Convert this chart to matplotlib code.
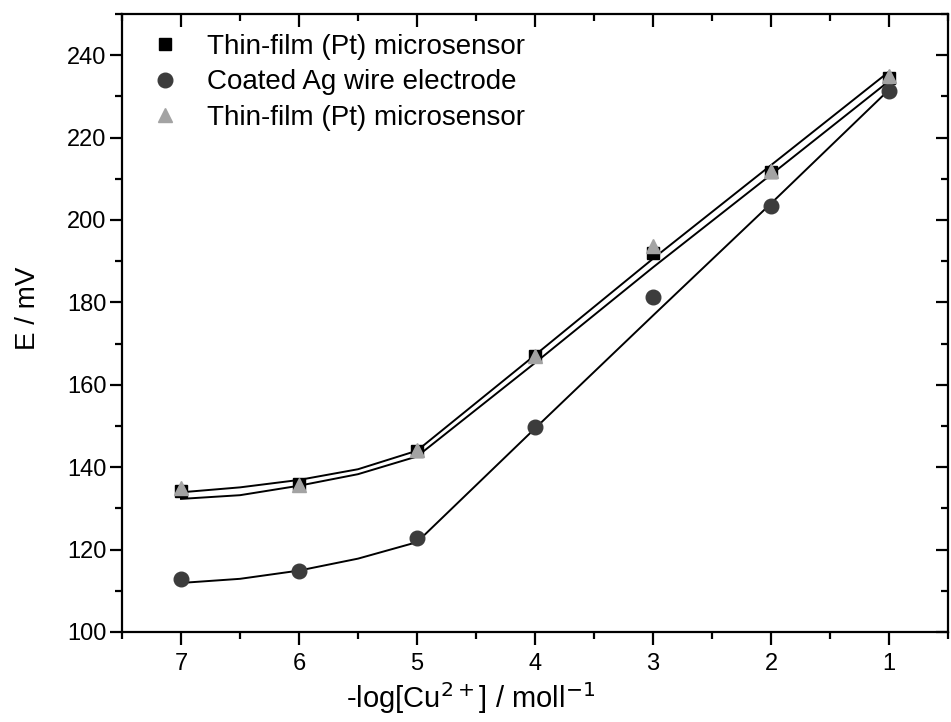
#!/usr/bin/env python3
"""Potentiometric response of Cu2+ sensors: E vs -log[Cu2+]."""

import matplotlib

matplotlib.use("Agg")
import matplotlib.lines as mlines
import matplotlib.pyplot as plt
from matplotlib.ticker import MultipleLocator

plt.rcParams["font.family"] = ["Liberation Sans", "DejaVu Sans"]

# measured points
pcu = [7, 6, 5, 4, 3, 2, 1]
e_thinfilm = [134.3, 136.0, 144.0, 167.0, 192.0, 211.7, 234.5]
e_coated_ag = [112.8, 114.8, 122.7, 149.8, 181.4, 203.5, 231.3]
e_thinfilm_2 = [135.0, 135.6, 144.2, 167.0, 193.7, 211.8, 234.9]

# fitted curves
fit_x = [7, 6.5, 6, 5.5, 5, 4, 3, 2, 1]
fit_top = [133.9, 135.1, 136.9, 139.5, 144.0, 167.2, 190.6, 213.3, 236.0]
fit_mid = [132.3, 133.2, 135.5, 138.3, 142.6, 165.3, 188.5, 211.0, 233.7]
fit_low = [111.9, 112.9, 114.9, 117.8, 121.8, 149.4, 176.8, 204.0, 231.6]

labels = [
    "Thin-film (Pt) microsensor",
    "Coated Ag wire electrode",
    "Thin-film (Pt) microsensor",
]


def main() -> None:
    fig = plt.figure(figsize=(9.51, 7.22), dpi=100)
    ax = fig.add_axes([0.1283, 0.1247, 0.8685, 0.8559])

    for fy in (fit_top, fit_mid, fit_low):
        ax.plot(fit_x, fy, color="black", linewidth=1.4, zorder=2)

    h1, = ax.plot(pcu, e_thinfilm, "s", color="black", markersize=8,
                  linestyle="none", zorder=3, label=labels[0])
    h2, = ax.plot(pcu, e_coated_ag, "o", color="#3c3c3c", markersize=10.5,
                  linestyle="none", zorder=4, label=labels[1])
    h3, = ax.plot(pcu, e_thinfilm_2, "^", color="#a3a3a3", markersize=10.5,
                  linestyle="none", zorder=5, label=labels[2])

    ax.set_xlim(7.5, 0.5)
    ax.set_ylim(100, 250)
    ax.xaxis.set_major_locator(MultipleLocator(1))
    ax.xaxis.set_minor_locator(MultipleLocator(0.5))
    ax.yaxis.set_minor_locator(MultipleLocator(10))
    ax.set_yticks(range(100, 241, 20))

    for sp in ax.spines.values():
        sp.set_linewidth(1.6)

    ax.tick_params(which="both", direction="out", width=1.6, labelsize=17,
                   top=True, right=True)
    ax.tick_params(which="major", length=9)
    ax.tick_params(which="minor", length=5)
    ax.tick_params(axis="x", pad=6)
    ax.tick_params(axis="y", pad=2)
    # mirrored ticks point inward
    for t in ax.xaxis.get_major_ticks() + ax.xaxis.get_minor_ticks():
        t.tick2line.set_marker(mlines.TICKDOWN)
    for t in ax.yaxis.get_major_ticks() + ax.yaxis.get_minor_ticks():
        t.tick2line.set_marker(mlines.TICKLEFT)

    ax.set_xlabel(r"-log[Cu$^{2+}$] / moll$^{-1}$", fontsize=21)
    ax.set_ylabel("E / mV", fontsize=20)
    ax.xaxis.set_label_coords(0.422, -0.078)
    ax.yaxis.set_label_coords(-0.0985, 0.524)

    ax.legend(handles=[h1, h2, h3], loc="upper left",
              bbox_to_anchor=(0.0115, 0.995), frameon=False, fontsize=20,
              handletextpad=0.9, labelspacing=0.35, borderaxespad=0.2,
              handlelength=1.2)

    fig.savefig("out.png", dpi=100)
    plt.close(fig)


if __name__ == "__main__":
    main()
